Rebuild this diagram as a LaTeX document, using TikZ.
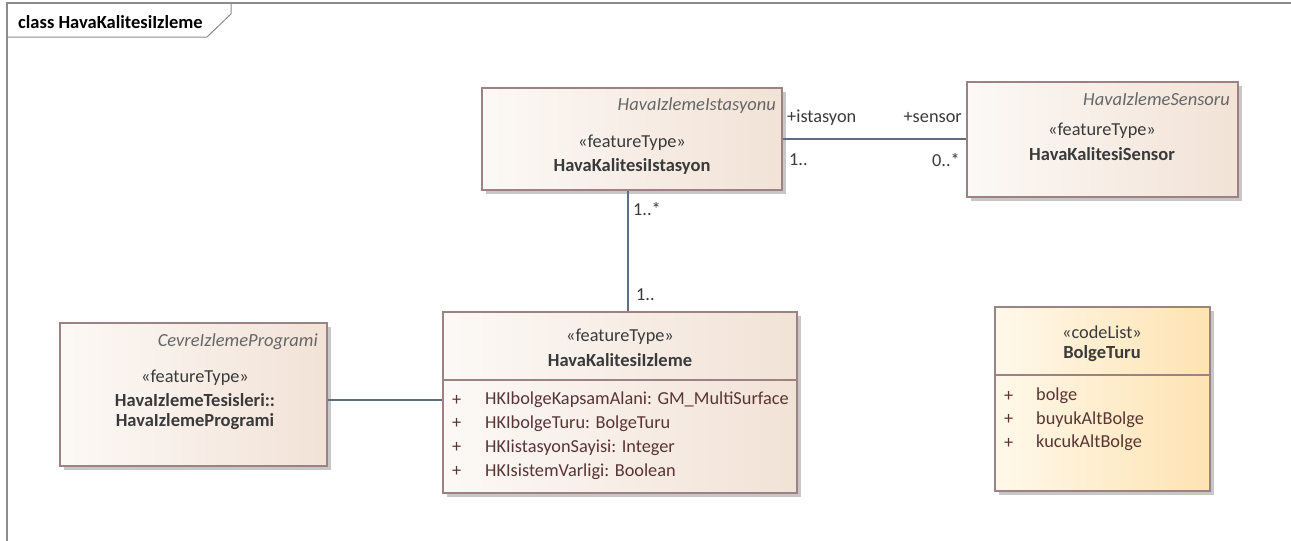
\documentclass[tikz,border=0pt]{standalone}
\usepackage{fontspec}
\setmainfont{Carlito}
\usetikzlibrary{shadows}
\definecolor{frameline}{HTML}{8C8C8C}
\definecolor{boxline}{HTML}{9C8282}
\definecolor{featL}{HTML}{FCF9F6}
\definecolor{featR}{HTML}{F2E2D6}
\definecolor{codeL}{HTML}{FFF8EA}
\definecolor{codeR}{HTML}{FEE3B2}
\definecolor{conn}{HTML}{5F6E85}
\definecolor{txt}{HTML}{3A3A3A}
\definecolor{attr}{HTML}{5A3434}
\tikzset{
  umlbox/.style={draw=boxline, line width=1.3pt, rectangle, inner sep=0pt,
    drop shadow={shadow xshift=3.5pt, shadow yshift=-3.5pt, fill=black!22, opacity=1}},
  feature/.style={umlbox, left color=featL, right color=featR},
  codelist/.style={umlbox, left color=codeL, right color=codeR},
  assoc/.style={draw=conn, line width=1.3pt},
  lbl/.style={font=\fontsize{18.3}{20}\selectfont, text=txt, inner sep=0pt},
  nm/.style={lbl, font=\fontsize{18.5}{20}\selectfont\bfseries},
  pkg/.style={lbl, font=\fontsize{18.5}{20}\selectfont\itshape, text=black!60},
  attrtext/.style={lbl, text=attr, anchor=west},
}
\begin{document}
\begin{tikzpicture}[x=1pt,y=-1pt]
\useasboundingbox (0,0) rectangle (1291,541);
% diagram frame with its name tab
\draw[frameline, line width=1.3pt] (7,541) -- (7,3) -- (1291,3);
\draw[frameline, line width=1pt] (7,37) -- (207,37) -- (231,14) -- (231,3);
\node[lbl, font=\fontsize{18.5}{20}\selectfont\bfseries, text=black, anchor=west] (title) at (18,22) {class HavaKalitesiIzleme};

% classes
\node[feature, minimum width=300pt, minimum height=102pt] (ist) at (632,139) {};
\node[feature, minimum width=271pt, minimum height=115pt] (sen) at (1102.5,139.5) {};
\node[feature, minimum width=267pt, minimum height=143pt] (prg) at (193.5,394.5) {};
\node[feature, minimum width=354pt, minimum height=181pt] (izl) at (620,402.5) {};
\node[codelist, minimum width=215pt, minimum height=184pt] (blg) at (1102.5,399) {};
\draw[boxline, line width=1.3pt] (443,380) -- (797,380);
\draw[boxline, line width=1.3pt] (995,375) -- (1210,375);

% HavaKalitesiIstasyon
\node[pkg, anchor=east] (istp) at (776,106) {HavaIzlemeIstasyonu};
\node[lbl] (ists) at (632,143) {«featureType»};
\node[nm] (istn) at (632,166) {HavaKalitesiIstasyon};

% HavaKalitesiSensor
\node[pkg, anchor=east] (senp) at (1230,99) {HavaIzlemeSensoru};
\node[lbl] (sens) at (1102,131) {«featureType»};
\node[nm] (senn) at (1102,154) {HavaKalitesiSensor};

% CevreIzlemeProgrami
\node[pkg, anchor=east] (prgp) at (318,342) {CevreIzlemeProgrami};
\node[lbl] (prgs) at (195,378) {«featureType»};
\node[nm] (prgn1) at (195,400) {HavaIzlemeTesisleri::};
\node[nm] (prgn2) at (195,422) {HavaIzlemeProgrami};

% HavaKalitesiIzleme
\node[lbl] (izls) at (620,337) {«featureType»};
\node[nm] (izln) at (620,360) {HavaKalitesiIzleme};
\foreach \t [count=\i] in {HKIbolgeKapsamAlani: GM\_MultiSurface, HKIbolgeTuru: BolgeTuru, HKIistasyonSayisi: Integer, HKIsistemVarligi: Boolean} {
  \node[attrtext] (izlv\i) at (452,376.5+23.7*\i) {+};
  \node[attrtext] (izla\i) at (485,376.5+23.7*\i) {\t};
}

% BolgeTuru
\node[lbl] (blgs) at (1102,332) {«codeList»};
\node[nm] (blgn) at (1102,354) {BolgeTuru};
\foreach \t [count=\i] in {bolge, buyukAltBolge, kucukAltBolge} {
  \node[attrtext] (blgv\i) at (1004,372.5+23.5*\i) {+};
  \node[attrtext] (blga\i) at (1036,372.5+23.5*\i) {\t};
}

% associations
\draw[assoc] (ist.east) -- (ist.east -| sen.west);
\draw[assoc] ([xshift=-4pt]ist.south) -- ([xshift=-4pt]ist.south |- izl.north);
\draw[assoc] ([yshift=-5.5pt]prg.east) -- ([yshift=-5.5pt]prg.east -| izl.west);

% association end labels
\node[lbl, anchor=west] (r1) at (787,118) {+istasyon};
\node[lbl, anchor=east] (r2) at (962,118) {+sensor};
\node[lbl, anchor=west] (m1) at (789,160) {1..};
\node[lbl, anchor=east] (m2) at (960,160) {0..*};
\node[lbl, anchor=west] (m3) at (633,209) {1..*};
\node[lbl, anchor=west] (m4) at (636,295) {1..};
\end{tikzpicture}
\end{document}
